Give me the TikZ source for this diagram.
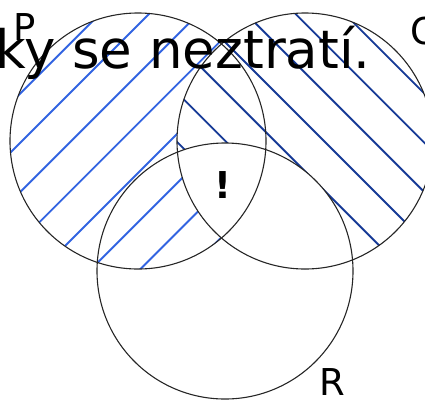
\documentclass[tikz,border=0pt]{standalone}
\usepackage{fontspec}
\setmainfont{DejaVu Sans}
\begin{document}
\begin{tikzpicture}[x=1pt,y=-1pt,
  ring/.style={draw=black!85, line width=1.1pt},
  hatchP/.style={draw={rgb,255:red,50;green,100;blue,225}, line width=1.9pt},
  hatchQ/.style={draw={rgb,255:red,22;green,58;blue,150}, line width=1.9pt},
  lbl/.style={inner sep=0pt, anchor=base west, font=\fontsize{37}{40}\selectfont},
]
\useasboundingbox (0,0) rectangle (425,400);
\clip (0,0) rectangle (425,400);
\coordinate (P) at (138,141);
\coordinate (Q) at (305,141);
\coordinate (R) at (225,271);
% hatch of P
\begin{scope}
  \clip (P) circle[radius=128];
  \foreach \k in {-3,...,7} \draw[hatchP] ({163+49.3*\k},0) -- ++(-420,420);
\end{scope}
\fill[white] (Q) circle[radius=128];
% hatch of Q
\begin{scope}
  \clip (Q) circle[radius=128];
  \foreach \k in {-6,...,5} \draw[hatchQ] ({183+49.3*\k},0) -- ++(420,420);
\end{scope}
\begin{scope}
  \clip (Q) circle[radius=128];
  \fill[white] (R) circle[radius=128];
\end{scope}
% circles
\draw[ring] (P) circle[radius=128];
\draw[ring] (Q) circle[radius=128];
\draw[ring] (R) circle[radius=128];
% labels
\node[lbl] (lP) at (13.5,40) {P};
\node[lbl] (lQ) at (410,44) {Q};
\node[lbl] (lR) at (319.5,395) {R};
\node[inner sep=0pt, anchor=base, font=\fontsize{37}{40}\selectfont\bfseries] (ex) at (223,198) {!};
\node[inner sep=0pt, anchor=base west, font=\fontsize{53}{60}\selectfont] (txt) at (-5,68) {ky se neztratí.};
\end{tikzpicture}
\end{document}
